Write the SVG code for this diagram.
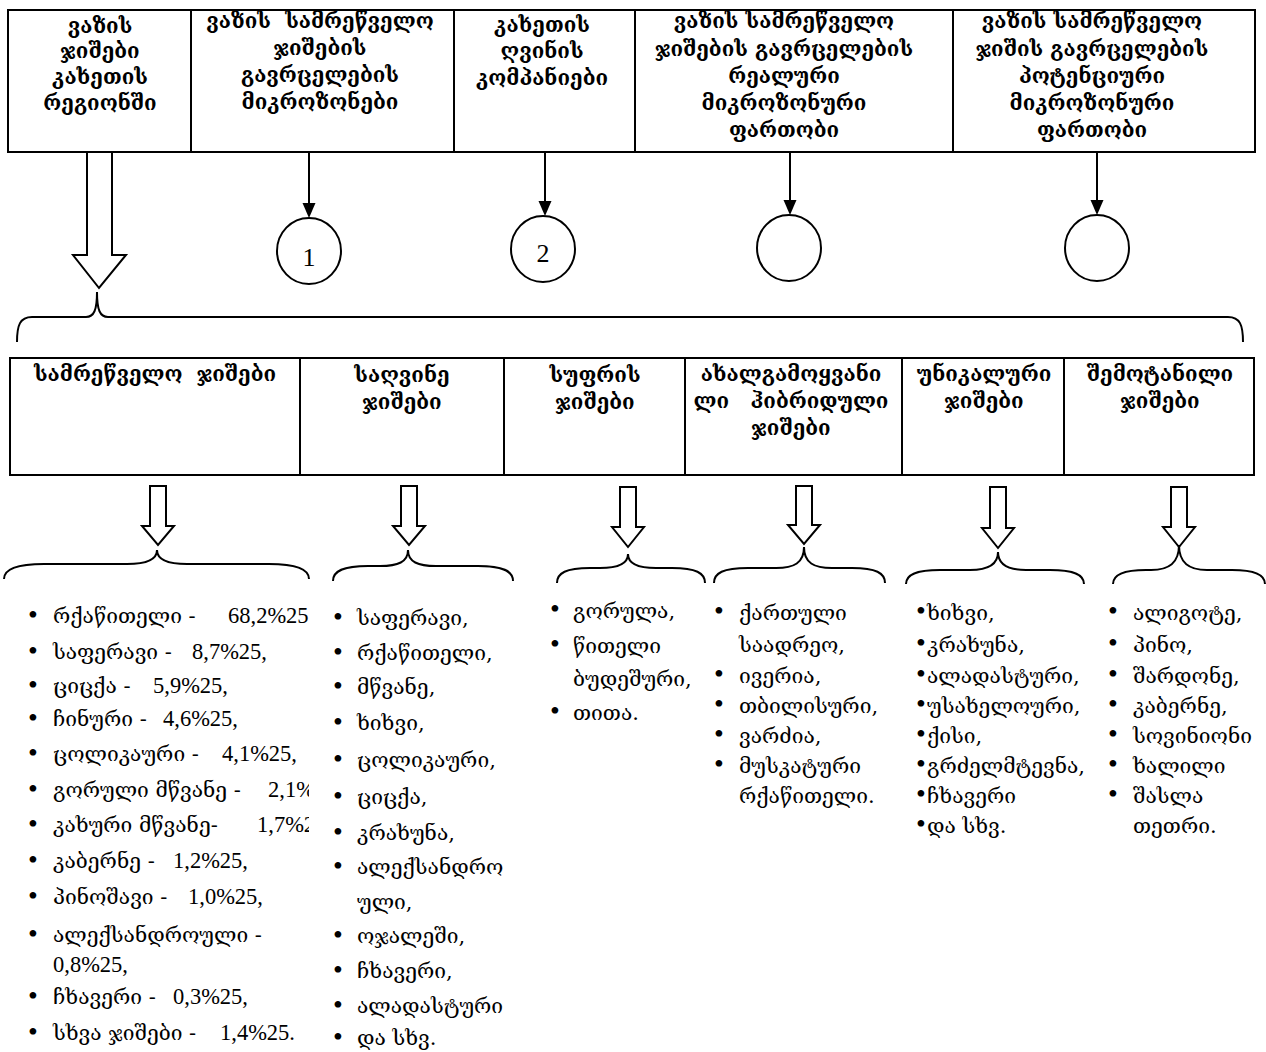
<svg xmlns="http://www.w3.org/2000/svg" width="1266" height="1052" viewBox="0 0 1266 1052">
<defs>
<style>
.box{fill:none;stroke:#000;stroke-width:2}
.h{font-family:"DejaVu Serif","DejaVu Sans",serif;font-weight:bold;font-size:20.5px;text-anchor:middle;fill:#000;white-space:pre}
.li{font-family:"DejaVu Serif","DejaVu Sans",serif;font-size:21px;fill:#000;white-space:pre}
.num{font-family:"Liberation Serif",serif;font-size:22.5px}
.bul{font-family:"Liberation Serif",serif;font-size:28px;text-anchor:middle;fill:#000}
.cn{font-family:"Liberation Serif",serif;font-size:26px;text-anchor:middle;fill:#000}
.hollow{fill:#fff;stroke:#000;stroke-width:2}
.brace{fill:none;stroke:#000;stroke-width:2}
.line{stroke:#000;stroke-width:2;fill:none}
.head{fill:#000}
.circ{fill:#fff;stroke:#000;stroke-width:2}
</style>
<clipPath id="c1"><rect x="0" y="590" width="309" height="462"/></clipPath>
<clipPath id="c3"><rect x="540" y="590" width="150" height="200"/></clipPath>
<clipPath id="c5"><rect x="900" y="590" width="187" height="300"/></clipPath>
</defs>
<rect width="1266" height="1052" fill="#fff"/>

<g id="top1"><rect class="box" x="8" y="10" width="183" height="142"/>
<text class="h" x="100"><tspan x="100" y="33">ვაზის</tspan><tspan x="100" y="58">ჯიშები</tspan><tspan x="100" y="84">კახეთის</tspan><tspan x="100" y="110">რეგიონში</tspan></text></g>
<g id="top2"><rect class="box" x="191" y="10" width="263" height="142"/>
<text class="h" x="320"><tspan x="320" y="28">ვაზის  სამრეწველო</tspan><tspan x="320" y="55">ჯიშების</tspan><tspan x="320" y="82">გავრცელების</tspan><tspan x="320" y="109">მიკროზონები</tspan></text></g>
<g id="top3"><rect class="box" x="454" y="10" width="181" height="142"/>
<text class="h" x="542"><tspan x="542" y="32">კახეთის</tspan><tspan x="542" y="58">ღვინის</tspan><tspan x="542" y="85">კომპანიები</tspan></text></g>
<g id="top4"><rect class="box" x="635" y="10" width="318" height="142"/>
<text class="h" x="784"><tspan x="784" y="28">ვაზის სამრეწველო</tspan><tspan x="784" y="56">ჯიშების გავრცელების</tspan><tspan x="784" y="83">რეალური</tspan><tspan x="784" y="110">მიკროზონური</tspan><tspan x="784" y="137">ფართობი</tspan></text></g>
<g id="top5"><rect class="box" x="953" y="10" width="302" height="142"/>
<text class="h" x="1092"><tspan x="1092" y="28">ვაზის სამრეწველო</tspan><tspan x="1092" y="56">ჯიშის გავრცელების</tspan><tspan x="1092" y="83">პოტენციური</tspan><tspan x="1092" y="110">მიკროზონური</tspan><tspan x="1092" y="137">ფართობი</tspan></text></g>

<g id="n1"><ellipse class="circ" cx="309" cy="251" rx="32" ry="33"/><text class="cn" x="309" y="266">1</text></g>
<g id="n2"><ellipse class="circ" cx="543" cy="249" rx="32" ry="33"/><text class="cn" x="543" y="262">2</text></g>
<g id="n3"><ellipse class="circ" cx="789" cy="248" rx="32" ry="33"/></g>
<g id="n4"><ellipse class="circ" cx="1097" cy="248" rx="32" ry="33"/></g>

<g id="bot1"><rect class="box" x="10" y="358" width="290" height="117"/>
<text class="h" x="155" y="381">სამრეწველო  ჯიშები</text></g>
<g id="bot2"><rect class="box" x="300" y="358" width="204" height="117"/>
<text class="h" x="402"><tspan x="402" y="382">საღვინე</tspan><tspan x="402" y="409">ჯიშები</tspan></text></g>
<g id="bot3"><rect class="box" x="504" y="358" width="181" height="117"/>
<text class="h" x="595"><tspan x="595" y="382">სუფრის</tspan><tspan x="595" y="409">ჯიშები</tspan></text></g>
<g id="bot4"><rect class="box" x="685" y="358" width="217" height="117"/>
<text class="h" x="791"><tspan x="791" y="381">ახალგამოყვანი</tspan><tspan x="791" y="408">ლი   ჰიბრიდული</tspan><tspan x="791" y="435">ჯიშები</tspan></text></g>
<g id="bot5"><rect class="box" x="902" y="358" width="162" height="117"/>
<text class="h" x="984"><tspan x="984" y="381">უნიკალური</tspan><tspan x="984" y="408">ჯიშები</tspan></text></g>
<g id="bot6"><rect class="box" x="1064" y="358" width="190" height="117"/>
<text class="h" x="1160"><tspan x="1160" y="381">შემოტანილი</tspan><tspan x="1160" y="408">ჯიშები</tspan></text></g>

<g id="connectors">
<line class="line" x1="309" y1="152" x2="309" y2="204"/><polygon class="head" points="302.5,203 315.5,203 309,218"/>
<line class="line" x1="545" y1="152" x2="545" y2="202"/><polygon class="head" points="538.5,201 551.5,201 545,216"/>
<line class="line" x1="790" y1="152" x2="790" y2="201"/><polygon class="head" points="783.5,200 796.5,200 790,215"/>
<line class="line" x1="1097" y1="152" x2="1097" y2="201"/><polygon class="head" points="1090.5,200 1103.5,200 1097,215"/>
<path class="hollow" d="M87,152 L112,152 L112,255 L126,255 L99,288 L73,255 L87,255 Z"/>
<path class="brace" d="M17,342 C17,325 20,317 32,317 L86,317 C94,317 97,310 97,292 C97,310 100,317 108,317 L1228,317 C1240,317 1243,325 1243,342"/>
<path class="hollow" d="M150,486 L166,486 L166,526 L174,526 L158,545 L142,526 L150,526 Z"/>
<path class="hollow" d="M401,486 L417,486 L417,526 L425,526 L409,545 L393,526 L401,526 Z"/>
<path class="hollow" d="M620,487 L636,487 L636,527 L644,527 L628,547 L612,527 L620,527 Z"/>
<path class="hollow" d="M796,486 L812,486 L812,525 L820,525 L804,544 L788,525 L796,525 Z"/>
<path class="hollow" d="M990,487 L1006,487 L1006,528 L1014,528 L998,548 L982,528 L990,528 Z"/>
<path class="hollow" d="M1171,487 L1187,487 L1187,527 L1195,527 L1179,547 L1163,527 L1171,527 Z"/>
<path class="brace" d="M4,579 C4,569 16,564 44,564 L127,564 C145,564 157,560 157,550 C157,560 169,564 187,564 L269,564 C297,564 309,569 309,579"/>
<path class="brace" d="M333,581 C333,571 343,566 368,566 L380,566 C398,566 408,562 408,550 C408,562 418,566 436,566 L478,566 C503,566 513,571 513,581"/>
<path class="brace" d="M557,583 C557,573 566,568 590,568 L600,568 C618,568 628,564 628,554 C628,564 638,568 656,568 L672,568 C696,568 705,573 705,583"/>
<path class="brace" d="M714,583 C714,573 723,568 748,568 L776,568 C794,568 804,563 804,547 C804,563 814,568 832,568 L852,568 C876,568 885,573 885,583"/>
<path class="brace" d="M906,584 C906,575 915,570 940,570 L970,570 C988,570 998,565 998,552 C998,565 1008,570 1026,570 L1050,570 C1075,570 1084,575 1084,584"/>
<path class="brace" d="M1113,584 C1113,575 1122,570 1146,570 L1151,570 C1169,570 1179,563 1179,545 C1179,563 1189,570 1207,570 L1232,570 C1256,570 1265,575 1265,584"/>
</g>

<g id="list1" clip-path="url(#c1)">
<text class="bul" x="33" y="624">•</text><text class="li" x="53" y="623">რქაწითელი -<tspan class="num" x="228">68,2%25</tspan></text>
<text class="bul" x="33" y="660">•</text><text class="li" x="53" y="659">საფერავი -<tspan class="num" x="192">8,7%25,</tspan></text>
<text class="bul" x="33" y="694">•</text><text class="li" x="53" y="693">ციცქა -<tspan class="num" x="153">5,9%25,</tspan></text>
<text class="bul" x="33" y="727">•</text><text class="li" x="53" y="726">ჩინური -<tspan class="num" x="163">4,6%25,</tspan></text>
<text class="bul" x="33" y="762">•</text><text class="li" x="53" y="761">ცოლიკაური -<tspan class="num" x="222">4,1%25,</tspan></text>
<text class="bul" x="33" y="798">•</text><text class="li" x="53" y="797">გორული მწვანე -<tspan class="num" x="268">2,1%</tspan></text>
<text class="bul" x="33" y="833">•</text><text class="li" x="53" y="832">კახური მწვანე-<tspan class="num" x="257">1,7%25</tspan></text>
<text class="bul" x="33" y="869">•</text><text class="li" x="53" y="868">კაბერნე -<tspan class="num" x="173">1,2%25,</tspan></text>
<text class="bul" x="33" y="905">•</text><text class="li" x="53" y="904">პინოშავი -<tspan class="num" x="188">1,0%25,</tspan></text>
<text class="bul" x="33" y="943">•</text><text class="li" x="53" y="942">ალექსანდროული -</text>
<text class="li" x="53" y="972"><tspan class="num">0,8%25,</tspan></text>
<text class="bul" x="33" y="1005">•</text><text class="li" x="53" y="1004">ჩხავერი -<tspan class="num" x="173">0,3%25,</tspan></text>
<text class="bul" x="33" y="1041">•</text><text class="li" x="53" y="1040">სხვა ჯიშები -<tspan class="num" x="220">1,4%25.</tspan></text>
</g>

<g id="list2">
<text class="bul" x="338" y="626">•</text><text class="li" x="357" y="625">საფერავი,</text>
<text class="bul" x="338" y="661">•</text><text class="li" x="357" y="660">რქაწითელი,</text>
<text class="bul" x="338" y="695">•</text><text class="li" x="357" y="694">მწვანე,</text>
<text class="bul" x="338" y="731">•</text><text class="li" x="357" y="730">ხიხვი,</text>
<text class="bul" x="338" y="768">•</text><text class="li" x="357" y="767">ცოლიკაური,</text>
<text class="bul" x="338" y="805">•</text><text class="li" x="357" y="804">ციცქა,</text>
<text class="bul" x="338" y="841">•</text><text class="li" x="357" y="840">კრახუნა,</text>
<text class="bul" x="338" y="875">•</text><text class="li" x="357" y="874">ალექსანდრო</text>
<text class="li" x="357" y="909">ული,</text>
<text class="bul" x="338" y="944">•</text><text class="li" x="357" y="943">ოჯალეში,</text>
<text class="bul" x="338" y="979">•</text><text class="li" x="357" y="978">ჩხავერი,</text>
<text class="bul" x="338" y="1014">•</text><text class="li" x="357" y="1013">ალადასტური</text>
<text class="bul" x="338" y="1046">•</text><text class="li" x="357" y="1045">და სხვ.</text>
</g>

<g id="list3" clip-path="url(#c3)">
<text class="bul" x="555" y="618">•</text><text class="li" x="573" y="618">გორულა,</text>
<text class="bul" x="555" y="653">•</text><text class="li" x="573" y="653">წითელი</text>
<text class="li" x="573" y="686">ბუდეშური,</text>
<text class="bul" x="555" y="720">•</text><text class="li" x="573" y="720">თითა.</text>
</g>

<g id="list4">
<text class="bul" x="719" y="620">•</text><text class="li" x="739" y="620">ქართული</text>
<text class="li" x="739" y="652">საადრეო,</text>
<text class="bul" x="719" y="683">•</text><text class="li" x="739" y="683">ივერია,</text>
<text class="bul" x="719" y="713">•</text><text class="li" x="739" y="713">თბილისური,</text>
<text class="bul" x="719" y="743">•</text><text class="li" x="739" y="743">ვარძია,</text>
<text class="bul" x="719" y="773">•</text><text class="li" x="739" y="773">მუსკატური</text>
<text class="li" x="739" y="803">რქაწითელი.</text>
</g>

<g id="list5" clip-path="url(#c5)">
<text class="bul" x="921" y="620">•</text><text class="li" x="927" y="620">ხიხვი,</text>
<text class="bul" x="921" y="652">•</text><text class="li" x="927" y="652">კრახუნა,</text>
<text class="bul" x="921" y="683">•</text><text class="li" x="927" y="683">ალადასტური,</text>
<text class="bul" x="921" y="713">•</text><text class="li" x="927" y="713">უსახელოური,</text>
<text class="bul" x="921" y="743">•</text><text class="li" x="927" y="743">ქისი,</text>
<text class="bul" x="921" y="773">•</text><text class="li" x="927" y="773">გრძელმტევნა,</text>
<text class="bul" x="921" y="803">•</text><text class="li" x="927" y="803">ჩხავერი</text>
<text class="bul" x="921" y="833">•</text><text class="li" x="927" y="833">და სხვ.</text>
</g>

<g id="list6">
<text class="bul" x="1113" y="620">•</text><text class="li" x="1133" y="620">ალიგოტე,</text>
<text class="bul" x="1113" y="652">•</text><text class="li" x="1133" y="652">პინო,</text>
<text class="bul" x="1113" y="683">•</text><text class="li" x="1133" y="683">შარდონე,</text>
<text class="bul" x="1113" y="713">•</text><text class="li" x="1133" y="713">კაბერნე,</text>
<text class="bul" x="1113" y="743">•</text><text class="li" x="1133" y="743">სოვინიონი</text>
<text class="bul" x="1113" y="773">•</text><text class="li" x="1133" y="773">ხალილი</text>
<text class="bul" x="1113" y="803">•</text><text class="li" x="1133" y="803">შასლა</text>
<text class="li" x="1133" y="833">თეთრი.</text>
</g>
</svg>
